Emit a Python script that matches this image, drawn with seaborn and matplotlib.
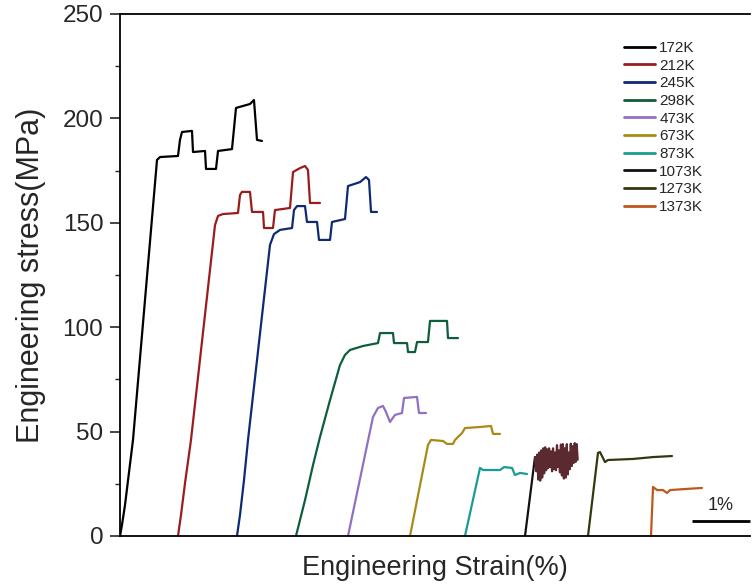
import numpy as np
import pandas as pd
import matplotlib
matplotlib.use("Agg")
import matplotlib.pyplot as plt
import seaborn as sns

sns.set_style("ticks")
plt.rcParams["font.family"] = ["Liberation Sans", "DejaVu Sans"]

# Engineering stress-strain records; each curve is shifted along strain for clarity
strain_172 = [0, 0.034, 0.086, 0.224, 0.638, 0.690, 1.000, 1.034, 1.069, 1.241, 1.259, 1.466,
              1.483, 1.655, 1.690, 1.931, 2.000, 2.241, 2.310, 2.362, 2.448]
stress_172 = [0, 5.3, 14.8, 46.0, 180.1, 181.5, 182.0, 189.7, 193.5, 194.0, 183.9, 184.4,
              175.8, 175.8, 184.4, 185.3, 205.0, 206.9, 208.8, 189.7, 189.2]

strain_212 = [1.000, 1.052, 1.121, 1.224, 1.638, 1.690, 1.776, 2.034, 2.069, 2.103, 2.241, 2.276,
              2.466, 2.483, 2.638, 2.672, 2.931, 2.983, 3.103, 3.190, 3.241, 3.276, 3.448]
stress_212 = [0, 10.1, 25.4, 46.0, 148.9, 153.3, 154.2, 154.7, 163.3, 164.8, 164.8, 155.2,
              155.2, 147.5, 147.5, 156.1, 157.1, 174.3, 176.2, 177.2, 175.3, 159.5, 159.5]

strain_245 = [2.017, 2.069, 2.138, 2.207, 2.586, 2.655, 2.759, 2.966, 3.000, 3.052, 3.190, 3.224,
              3.397, 3.431, 3.621, 3.655, 3.879, 3.931, 4.138, 4.241, 4.293, 4.328, 4.431]
stress_245 = [0, 10.1, 26.8, 46.0, 139.4, 144.6, 146.6, 147.5, 156.1, 158.0, 158.0, 150.4,
              150.4, 141.8, 141.8, 150.4, 151.8, 167.6, 169.5, 171.9, 170.5, 155.2, 155.2]

strain_298 = [3.034, 3.190, 3.328, 3.448, 3.621, 3.793, 3.879, 3.966, 4.190, 4.448, 4.483, 4.707,
              4.724, 4.948, 4.966, 5.086, 5.121, 5.310, 5.345, 5.638, 5.655, 5.828]
stress_298 = [0, 17.2, 34.0, 47.4, 65.1, 81.9, 86.7, 89.1, 91.0, 92.4, 97.2, 97.2,
              92.4, 92.4, 88.1, 88.1, 92.9, 92.9, 103.0, 103.0, 94.8, 94.8]

strain_473 = [3.931, 4.362, 4.448, 4.534, 4.586, 4.655, 4.741, 4.862, 4.897, 5.121, 5.155, 5.276]
stress_473 = [0, 57.0, 61.3, 62.3, 59.4, 54.6, 58.0, 58.9, 66.1, 66.6, 58.9, 58.9]

strain_673 = [5.000, 5.310, 5.362, 5.569, 5.638, 5.741, 5.776, 5.897, 5.948, 6.207, 6.397, 6.431, 6.552]
stress_673 = [0, 43.6, 46.0, 45.5, 44.1, 44.1, 46.0, 49.3, 51.7, 52.2, 52.7, 48.9, 48.9]

strain_873 = [5.948, 6.207, 6.259, 6.552, 6.621, 6.759, 6.810, 6.897, 7.017]
stress_873 = [0, 32.6, 31.6, 31.6, 33.0, 32.6, 29.2, 30.2, 29.7]

strain_1073 = [6.983, 7.155]
stress_1073 = [0, 37.8]
# serrated flow region of the 1073K test
strain_1073_serr = [7.155, 7.177, 7.194, 7.211, 7.228, 7.245, 7.262, 7.279, 7.296, 7.313, 7.330,
                    7.347, 7.364, 7.381, 7.398, 7.415, 7.432, 7.449, 7.466, 7.483, 7.500, 7.517,
                    7.534, 7.551, 7.568, 7.585, 7.602, 7.619, 7.636, 7.653, 7.670, 7.687, 7.704,
                    7.721, 7.738, 7.755, 7.772, 7.789, 7.806, 7.823, 7.840, 7.857, 7.874, 7.891]
stress_1073_serr = [37.8, 31, 39, 27, 40, 26.5, 41, 28, 42, 30, 42.5,
                    31.5, 41.5, 32.5, 42, 33, 40.5, 31, 42, 32, 40, 31.5,
                    43.5, 33, 41, 30.5, 43.8, 29, 44, 27.5, 42, 28, 44,
                    29.5, 40, 32, 44.2, 33.5, 43, 35, 44.5, 35.5, 44, 36.5]

strain_1273 = [8.069, 8.241, 8.276, 8.362, 8.414, 8.845, 9.190, 9.517]
stress_1273 = [0, 39.8, 40.2, 35.4, 36.4, 36.9, 37.8, 38.3]

strain_1373 = [9.155, 9.190, 9.259, 9.362, 9.431, 9.483, 9.741, 10.034]
stress_1373 = [0, 23.5, 22.0, 22.0, 20.6, 22.0, 22.5, 23.0]

temperatures = ["172K", "212K", "245K", "298K", "473K", "673K", "873K", "1073K", "1273K", "1373K"]
colors = ["#000000", "#9a1c1c", "#0f2a72", "#0e5e3c", "#9070c4", "#a88b16", "#1a9b95",
          "#111111", "#34380f", "#c0561c"]
serration_color = "#5a2a30"

curves = [
    (strain_172, stress_172), (strain_212, stress_212), (strain_245, stress_245),
    (strain_298, stress_298), (strain_473, stress_473), (strain_673, stress_673),
    (strain_873, stress_873), (strain_1073, stress_1073), (strain_1273, stress_1273),
    (strain_1373, stress_1373),
]

fig = plt.figure(figsize=(7.53, 5.85), dpi=100)
ax = fig.add_axes([120 / 753, 49 / 585, 630 / 753, 522 / 585])

for (sx, sy), temp, col in zip(curves, temperatures, colors):
    df = pd.DataFrame({"strain": sx, "stress": sy})
    sns.lineplot(data=df, x="strain", y="stress", sort=False, estimator=None,
                 color=col, lw=1.6, label=temp, ax=ax)

df_serr = pd.DataFrame({"strain": strain_1073_serr, "stress": stress_1073_serr})
sns.lineplot(data=df_serr, x="strain", y="stress", sort=False, estimator=None,
             color=serration_color, lw=1.6, label="_nolegend_", ax=ax)

# 1% strain scale bar
scale_len = 1.0
ax.plot([10.862 - scale_len, 10.862], [7.2, 7.2], color="black", lw=2.0,
        clip_on=False, solid_capstyle="butt")
ax.text(10.862 - scale_len / 2, 10.5, "1%", ha="center", va="bottom", fontsize=13)

ax.set_xlim(0, 10.862)
ax.set_ylim(0, 250)
ax.set_yticks(np.arange(0, 251, 50))
ax.set_yticks(np.arange(0, 251, 25), minor=True)
ax.set_xticks([])
ax.tick_params(axis="y", which="major", direction="out", length=7, width=1.2,
               labelsize=17.5, pad=5)
ax.tick_params(axis="y", which="minor", direction="out", length=3.5, width=1.0)

for side in ["left", "bottom", "top"]:
    ax.spines[side].set_visible(True)
    ax.spines[side].set_linewidth(1.3)
    ax.spines[side].set_color("black")
ax.spines["right"].set_visible(False)

ax.set_xlabel("Engineering Strain(%)", fontsize=19.5, labelpad=14)
ax.set_ylabel("Engineering stress(MPa)", fontsize=22, labelpad=12)

leg = ax.legend(loc="upper left", bbox_to_anchor=(0.80, 0.948), frameon=False,
                fontsize=11, handlelength=2.0, handletextpad=0.3, labelspacing=0.24,
                borderpad=0, borderaxespad=0)
for line in leg.get_lines():
    line.set_linewidth(2.0)

fig.savefig("out.png", dpi=100)
